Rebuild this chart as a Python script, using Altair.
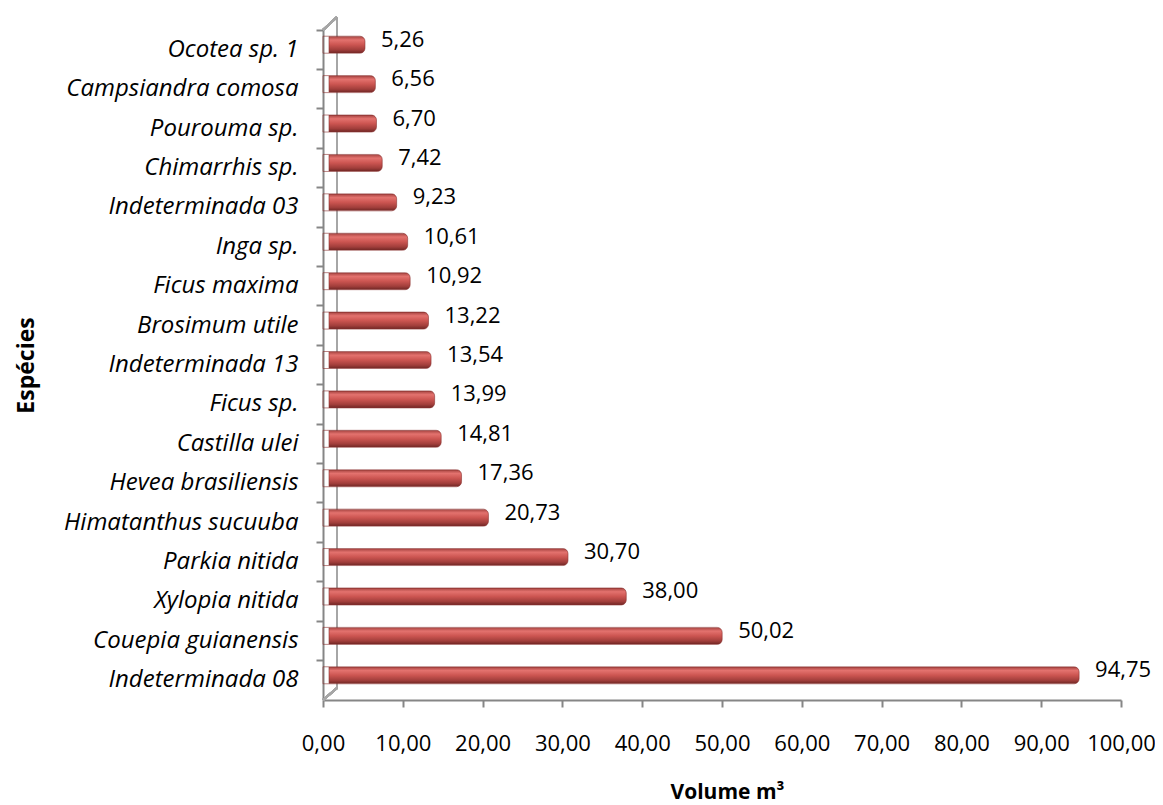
import altair as alt
import pandas as pd

species = ["Ocotea sp. 1", "Campsiandra comosa", "Pourouma sp.", "Chimarrhis sp.",
           "Indeterminada 03", "Inga sp.", "Ficus maxima", "Brosimum utile",
           "Indeterminada 13", "Ficus sp.", "Castilla ulei", "Hevea brasiliensis",
           "Himatanthus sucuuba", "Parkia nitida", "Xylopia nitida",
           "Couepia guianensis", "Indeterminada 08"]
volumes = [5.26, 6.56, 6.70, 7.42, 9.23, 10.61, 10.92, 13.22, 13.54, 13.99,
           14.81, 17.36, 20.73, 30.70, 38.00, 50.02, 94.75]
x_ticks = [0, 10, 20, 30, 40, 50, 60, 70, 80, 90, 100]

df = pd.DataFrame({"species": species, "volume": volumes})
df["label"] = [f"{v:.2f}".replace(".", ",") for v in volumes]

FONT = "Open Sans"
GREY = "#868686"
W, H = 798, 670

grad = alt.Gradient(
    gradient="linear", x1=0, x2=0, y1=0, y2=1,
    stops=[
        alt.GradientStop(offset=0, color="#a4423f"),
        alt.GradientStop(offset=0.22, color="#e3726e"),
        alt.GradientStop(offset=0.5, color="#cc5551"),
        alt.GradientStop(offset=0.8, color="#a13e3b"),
        alt.GradientStop(offset=1, color="#6e2624"),
    ],
)

y_enc = alt.Y("species:N", sort=species, title="Espécies",
              scale=alt.Scale(paddingInner=0, paddingOuter=0),
              axis=alt.Axis(labelFont=FONT, labelFontSize=24, labelFontStyle="italic",
                            labelColor="#000000", labelPadding=18, tickSize=7,
                            labelLimit=400,
                            tickColor=GREY, tickWidth=2, domainColor=GREY, domainWidth=2,
                            bandPosition=0,
                            titleFont=FONT, titleFontSize=23, titleFontWeight="bold",
                            titleColor="#000000", titleX=-297, titleY=H / 2,
                            titleAlign="center", titleBaseline="middle", titleAngle=270))

x_enc = alt.X("volume:Q", title="Volume m³",
              scale=alt.Scale(domain=[0, 100], nice=False),
              axis=alt.Axis(values=x_ticks, labelFlush=False,
                            labelExpr="replace(format(datum.value, '.2f'), '.', ',')",
                            labelFont=FONT, labelFontSize=22, labelColor="#000000",
                            labelPadding=26, tickSize=7, tickColor=GREY, tickWidth=2,
                            domainColor=GREY, domainWidth=2, grid=False,
                            titleFont=FONT, titleFontSize=21, titleFontWeight="bold",
                            titleColor="#000000", titleX=W / 2 + 5, titleY=92,
                            titleAlign="center", titleBaseline="middle"))

bars = alt.Chart(df).mark_bar(color=grad, size=17, cornerRadiusEnd=5, xOffset=6, yOffset=-5,
                              stroke="#8a3331", strokeWidth=0.6).encode(
    x=x_enc, y=y_enc)

labels = alt.Chart(df).mark_text(align="left", baseline="middle", dx=16, dy=-10,
                                 font=FONT, fontSize=22, color="#000000").encode(
    x="volume:Q", y=alt.Y("species:N", sort=species), text="label:N")

back_wall = alt.Chart(df).mark_rule(color="#a6a6a6", strokeWidth=2).encode(
    x=alt.value(14), y=alt.value(-13), y2=alt.value(H - 12))
diag_top = alt.Chart(df).mark_rule(color="#a6a6a6", strokeWidth=2).encode(
    x=alt.value(0), x2=alt.value(14), y=alt.value(0), y2=alt.value(-13))
diag_bottom = alt.Chart(df).mark_rule(color="#a6a6a6", strokeWidth=2).encode(
    x=alt.value(0), x2=alt.value(14), y=alt.value(H), y2=alt.value(H - 12))

chart = alt.layer(back_wall, diag_top, diag_bottom, bars, labels).properties(
    width=W, height=H, background="#ffffff",
    padding={"left": 315, "top": 22, "right": 34, "bottom": 110},
    autosize=alt.AutoSizeParams(type="none"),
).configure_view(stroke=None)

chart.save("out.html", embed_options={"renderer": "svg", "actions": False})
